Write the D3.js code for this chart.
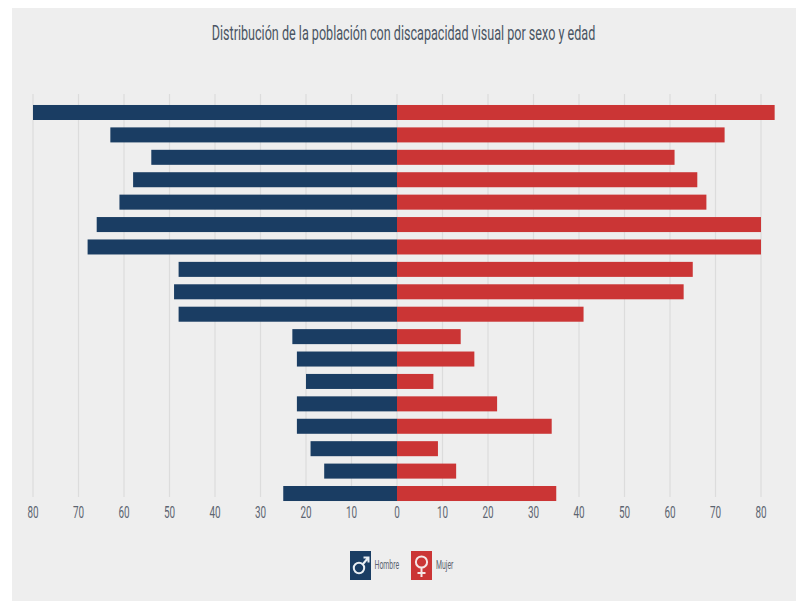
<!DOCTYPE html>
<html>
<head>
<meta charset="utf-8">
<script src="https://cdnjs.cloudflare.com/ajax/libs/d3/7.8.5/d3.min.js"></script>
<style>
  html, body { margin: 0; padding: 0; background: #fff; }
  text { font-family: "Roboto", sans-serif; }
</style>
</head>
<body>
<div id="area"></div>
<script>
const hombre = [80,63,54,58,61,66,68,48,49,48,23,22,20,22,22,19,16,25]
const mujer = [83,72,61,66,68,80,80,65,63,41,14,17,8,22,34,9,13,35]
const ticksLeft = [80,70,60,50,40,30,20,10]
const ticksRight = [0,10,20,30,40,50,60,70,80]
const title = 'Distribución de la población con discapacidad visual por sexo y edad'

const azul = '#1a3d63'
const rojo = '#cb3535'
const gris = '#5c6470'

const svg = d3.select('#area')
            .append('svg')
            .attr('width',796)
            .attr('height',601)
            .style('display','block')

svg.append('rect')
    .attr('x',12)
    .attr('y',8)
    .attr('width',784)
    .attr('height',593)
    .attr('fill','#eeeeee')

const xLeft = d3.scaleLinear().domain([0,80]).range([397,33])
const xRight = d3.scaleLinear().domain([0,80]).range([397,761])
const yScale = d3.scaleBand()
              .domain(d3.range(hombre.length))
              .range([100.5,505.5])
              .paddingInner(0.33)
              .paddingOuter(0.2)

// grid
const allTicks = ticksLeft.map(t => xLeft(t)).concat(ticksRight.map(t => xRight(t)))
svg.selectAll('.grid')
    .data(allTicks)
    .enter()
    .append('line')
    .attr('class','grid')
    .attr('x1',d => d)
    .attr('x2',d => d)
    .attr('y1',94)
    .attr('y2',497)
    .attr('stroke','#dcdcdc')
    .attr('stroke-width',1.2)

svg.selectAll('.hombre')
    .data(hombre)
    .enter()
    .append('rect')
    .attr('class','hombre')
    .attr('x',d => xLeft(d))
    .attr('y',(d,i) => yScale(i))
    .attr('width',d => xLeft(0) - xLeft(d))
    .attr('height',yScale.bandwidth())
    .attr('fill',azul)

svg.selectAll('.mujer')
    .data(mujer)
    .enter()
    .append('rect')
    .attr('class','mujer')
    .attr('x',xRight(0))
    .attr('y',(d,i) => yScale(i))
    .attr('width',d => xRight(d) - xRight(0))
    .attr('height',yScale.bandwidth())
    .attr('fill',rojo)

// no condensed font installed, so squeeze the text horizontally
svg.selectAll('.tick-l')
    .data(ticksLeft)
    .enter()
    .append('text')
    .attr('class','tick-l')
    .attr('transform',d => `translate(${xLeft(d)},518) scale(0.62,1)`)
    .attr('text-anchor','middle')
    .attr('font-size',16)
    .attr('fill',gris)
    .text(d => d)

svg.selectAll('.tick-r')
    .data(ticksRight)
    .enter()
    .append('text')
    .attr('class','tick-r')
    .attr('transform',d => `translate(${xRight(d)},518) scale(0.62,1)`)
    .attr('text-anchor','middle')
    .attr('font-size',16)
    .attr('fill',gris)
    .text(d => d)

svg.append('text')
    .attr('transform','translate(403.5,39.5) scale(0.6,1)')
    .attr('text-anchor','middle')
    .attr('font-size',21)
    .attr('fill','#4a5563')
    .text(title)

// legend
const male = svg.append('g').attr('transform','translate(350,551)')
male.append('rect').attr('width',21).attr('height',29).attr('fill',azul)
male.append('circle').attr('cx',9).attr('cy',17).attr('r',5.2)
    .attr('fill','none').attr('stroke','#e8eef3').attr('stroke-width',2)
male.append('path').attr('d','M13 13L18 7M13.5 6.5H18.5V11.5')
    .attr('fill','none').attr('stroke','#e8eef3').attr('stroke-width',2)
svg.append('text')
    .attr('transform','translate(374.5,569) scale(0.55,1)')
    .attr('font-size',12.5).attr('fill',gris).text('Hombre')

const female = svg.append('g').attr('transform','translate(411,551)')
female.append('rect').attr('width',21).attr('height',29).attr('fill',rojo)
female.append('circle').attr('cx',10.5).attr('cy',11).attr('r',5.6)
    .attr('fill','none').attr('stroke','#f5e6e6').attr('stroke-width',2)
female.append('path').attr('d','M10.5 17V26M6.5 22H14.5')
    .attr('fill','none').attr('stroke','#f5e6e6').attr('stroke-width',2)
svg.append('text')
    .attr('transform','translate(436,569) scale(0.55,1)')
    .attr('font-size',12.5).attr('fill',gris).text('Mujer')
</script>
</body>
</html>
